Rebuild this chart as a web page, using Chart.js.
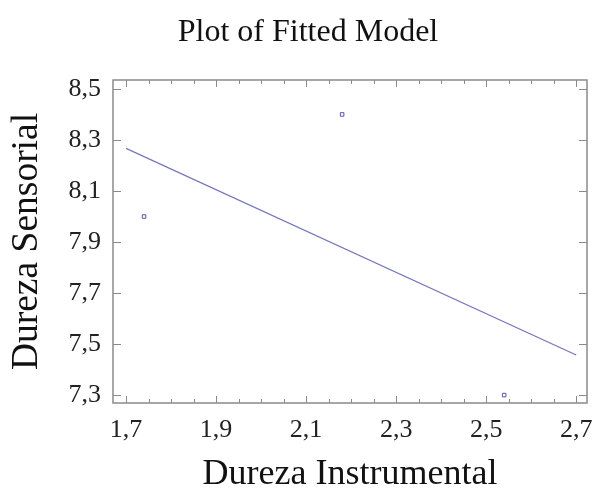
<!DOCTYPE html>
<html>
<head>
<meta charset="utf-8">
<script src="https://cdn.jsdelivr.net/npm/chart.js@4/dist/chart.umd.min.js"></script>
<style>
  html, body { margin: 0; padding: 0; background: #fff; }
  #wrap { width: 595px; height: 489px; }
</style>
</head>
<body>
<div id="wrap"><canvas id="myChart" width="595" height="489"></canvas></div>
<script>
// observed points (Dureza Instrumental, Dureza Sensorial)
var obsX = [1.74, 2.18, 2.54];
var obsY = [8.0, 8.4, 7.3];
// fitted line end points
var fitX = [1.7, 2.7];
var fitY = [8.267, 7.457];

var xTicks = [1.7, 1.9, 2.1, 2.3, 2.5, 2.7];
var xTickLabels = ["1,7", "1,9", "2,1", "2,3", "2,5", "2,7"];
var xMinorTicks = [1.75, 1.8, 1.85, 1.95, 2.0, 2.05, 2.15, 2.2, 2.25, 2.35, 2.4, 2.45, 2.55, 2.6, 2.65];
var yTicks = [7.3, 7.5, 7.7, 7.9, 8.1, 8.3, 8.5];
var yTickLabels = ["7,3", "7,5", "7,7", "7,9", "8,1", "8,3", "8,5"];

var chartTitle = "Plot of Fitted Model";
var serif = "'Liberation Serif', 'DejaVu Serif', serif";

// titre un peu décalé à droite, comme dans l'original
var titlePlugin = {
  id: "bigTitle",
  afterDraw: function (chart) {
    var ctx = chart.ctx;
    ctx.save();
    ctx.fillStyle = "#111";
    ctx.font = "32px " + serif;
    ctx.textAlign = "center";
    ctx.textBaseline = "alphabetic";
    ctx.fillText(chartTitle, 308, 41);
    ctx.restore();
  }
};

// marco y marcas hacia dentro
var framePlugin = {
  id: "frame",
  afterDraw: function (chart) {
    var ctx = chart.ctx;
    var a = chart.chartArea;
    var xs = chart.scales.x, ys = chart.scales.y;
    ctx.save();
    ctx.strokeStyle = "#8a8a8a";
    ctx.lineWidth = 1.5;
    ctx.strokeRect(a.left, a.top, a.right - a.left, a.bottom - a.top);
    ctx.lineWidth = 1;
    ctx.beginPath();
    xTicks.forEach(function (v) {
      var px = Math.round(xs.getPixelForValue(v)) + 0.5;
      ctx.moveTo(px, a.bottom); ctx.lineTo(px, a.bottom - 7);
      ctx.moveTo(px, a.top); ctx.lineTo(px, a.top + 7);
    });
    xMinorTicks.forEach(function (v) {
      var px = Math.round(xs.getPixelForValue(v)) + 0.5;
      ctx.moveTo(px, a.bottom); ctx.lineTo(px, a.bottom - 4);
      ctx.moveTo(px, a.top); ctx.lineTo(px, a.top + 4);
    });
    yTicks.forEach(function (v) {
      var py = Math.round(ys.getPixelForValue(v)) + 0.5;
      ctx.moveTo(a.left, py); ctx.lineTo(a.left + 8, py);
      ctx.moveTo(a.right, py); ctx.lineTo(a.right - 8, py);
    });
    ctx.stroke();
    ctx.restore();
  }
};

var ctx = document.getElementById("myChart").getContext("2d");
new Chart(ctx, {
  type: "scatter",
  data: {
    datasets: [
      {
        label: "Fitted",
        type: "line",
        data: fitX.map(function (x, i) { return { x: x, y: fitY[i] }; }),
        borderColor: "#7676bd",
        borderWidth: 1.2,
        pointRadius: 0,
        fill: false,
      },
      {
        label: "Observed",
        data: obsX.map(function (x, i) { return { x: x, y: obsY[i] }; }),
        pointStyle: "rect",
        pointRadius: 2.5,
        borderColor: "#5555aa",
        backgroundColor: "rgba(255,255,255,0)",
        borderWidth: 1,
      },
    ],
  },
  options: {
    responsive: false,
    animation: false,
    layout: { padding: { left: 0, right: 8, top: 80, bottom: 0 } },
    plugins: {
      legend: { display: false },
      tooltip: { enabled: false },
      title: { display: false },
    },
    scales: {
      x: {
        type: "linear",
        min: 1.671,
        max: 2.724,
        afterBuildTicks: function (s) { s.ticks = xTicks.map(function (v) { return { value: v }; }); },
        afterFit: function (s) { s.height = 86; s.paddingLeft = 0; s.paddingRight = 0; },
        grid: { display: false, drawTicks: false },
        border: { display: false },
        ticks: {
          color: "#222",
          padding: 12,
          maxRotation: 0,
          font: { family: serif, size: 26 },
          callback: function (v, i) { return xTickLabels[i]; },
        },
        title: {
          display: true,
          text: "Dureza Instrumental",
          color: "#111",
          font: { family: serif, size: 36, lineHeight: 0.8 },
          padding: { top: 0, bottom: 0 },
        },
      },
      y: {
        type: "linear",
        min: 7.269,
        max: 8.535,
        afterBuildTicks: function (s) { s.ticks = yTicks.map(function (v) { return { value: v }; }); },
        afterFit: function (s) { s.width = 113; s.paddingTop = 0; s.paddingBottom = 0; },
        grid: { display: false, drawTicks: false },
        border: { display: false },
        ticks: {
          color: "#222",
          padding: 12,
          font: { family: serif, size: 26 },
          callback: function (v, i) { return yTickLabels[i]; },
        },
        title: {
          display: true,
          text: "Dureza Sensorial",
          color: "#111",
          font: { family: serif, size: 37.5 },
          padding: { top: 5, bottom: 0 },
        },
      },
    },
  },
  plugins: [framePlugin, titlePlugin],
});
</script>
</body>
</html>
